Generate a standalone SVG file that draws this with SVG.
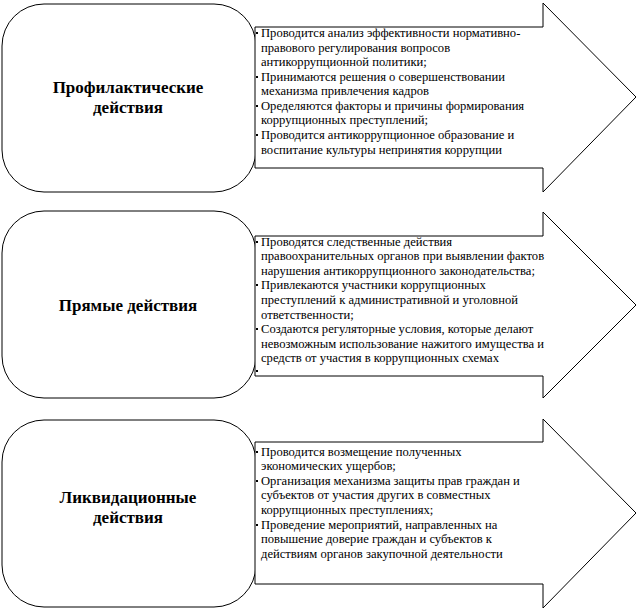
<svg xmlns="http://www.w3.org/2000/svg" width="638" height="610" viewBox="0 0 638 610" font-family="'Liberation Serif', 'Times New Roman', 'DejaVu Serif', serif">
<style>
.box{fill:#fff;stroke:#000;stroke-width:1}
.arr{fill:#fff;stroke:#000;stroke-width:1}
.t text{font-family:'Liberation Serif','Times New Roman','DejaVu Serif',serif;font-size:12.6px;fill:#000}
.h{font-family:'Liberation Serif','Times New Roman','DejaVu Serif',serif;font-size:17px;font-weight:bold;fill:#000;text-anchor:middle}
.b{fill:#000}
</style>
<rect width="638" height="610" fill="#fff"/>
<g id="n1">
<rect class="box" x="2" y="4" width="254" height="188" rx="42"/>
<polygon class="arr" points="255,27 543,27 543,3 636,97 543,192 543,168 255,168"/>
<text class="h" x="128" y="93">Профилактические</text>
<text class="h" x="128" y="113">действия</text>
<g class="t">
<text x="261" y="37">Проводится  анализ  эффективности нормативно-</text>
<text x="261" y="52">правового регулирования вопросов</text>
<text x="261" y="66">антикоррупционной политики;</text>
<text x="261" y="81">Принимаются  решения о совершенствовании</text>
<text x="261" y="95">механизма  привлечения кадров</text>
<text x="261" y="110">Оределяются  факторы и причины формирования</text>
<text x="261" y="124">коррупционных преступлений;</text>
<text x="261" y="139">Проводится  антикоррупционное образование и</text>
<text x="261" y="154">воспитание  культуры непринятия коррупции</text>
</g>
<rect class="b" x="256" y="32" width="2" height="2"/><rect class="b" x="256" y="76" width="2" height="2"/><rect class="b" x="256" y="105" width="2" height="2"/><rect class="b" x="256" y="134" width="2" height="2"/>
</g>
<g id="n2">
<rect class="box" x="2" y="211" width="254" height="187" rx="42"/>
<polygon class="arr" points="255,236 543,236 543,212 636,305 543,398 543,376 255,376"/>
<text class="h" x="128" y="311">Прямые действия</text>
<g class="t">
<text x="261" y="246">Проводятся  следственные  действия</text>
<text x="261" y="260">правоохранительных  органов при выявлении фактов</text>
<text x="261" y="275">нарушения антикоррупционного законодательства;</text>
<text x="261" y="289">Привлекаются  участники коррупционных</text>
<text x="261" y="304">преступлений к административной и уголовной</text>
<text x="261" y="319">ответственности;</text>
<text x="261" y="333">Создаются  регуляторные условия, которые делают</text>
<text x="261" y="348">невозможным использование нажитого имущества и</text>
<text x="261" y="362">средств  от участия в коррупционных схемах</text>
</g>
<rect class="b" x="256" y="241" width="2" height="2"/><rect class="b" x="256" y="284" width="2" height="2"/><rect class="b" x="256" y="328" width="2" height="2"/><rect class="b" x="256" y="370" width="2" height="2"/>
</g>
<g id="n3">
<rect class="box" x="2" y="420" width="254" height="187" rx="42"/>
<polygon class="arr" points="255,442 543,442 543,419 636,513 543,608 543,584 255,584"/>
<text class="h" x="128" y="503">Ликвидационные</text>
<text class="h" x="128" y="523">действия</text>
<g class="t">
<text x="261" y="456">Проводится  возмещение полученных</text>
<text x="261" y="470">экономических ущербов;</text>
<text x="261" y="485">Организация  механизма защиты прав граждан и</text>
<text x="261" y="499">субъектов от участия других в совместных</text>
<text x="261" y="514">коррупционных преступлениях;</text>
<text x="261" y="529">Проведение  мероприятий, направленных  на</text>
<text x="261" y="543">повышение доверие граждан и субъектов к</text>
<text x="261" y="558">действиям органов закупочной деятельности</text>
</g>
<rect class="b" x="256" y="451" width="2" height="2"/><rect class="b" x="256" y="480" width="2" height="2"/><rect class="b" x="256" y="524" width="2" height="2"/>
</g>
<g id="connectors"></g>
</svg>
